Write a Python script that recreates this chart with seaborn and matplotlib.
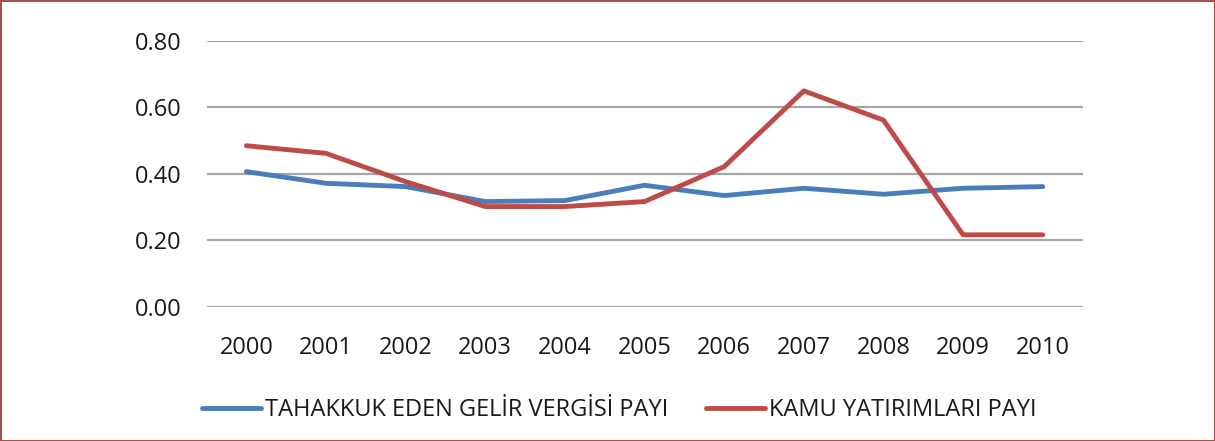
import matplotlib
matplotlib.use("Agg")
import matplotlib.pyplot as plt
import seaborn as sns
import pandas as pd

years = ["2000", "2001", "2002", "2003", "2004", "2005", "2006", "2007", "2008", "2009", "2010"]
gelir_vergisi = [0.407, 0.372, 0.362, 0.317, 0.320, 0.366, 0.335, 0.357, 0.339, 0.357, 0.362]
kamu_yatirim = [0.485, 0.462, 0.377, 0.302, 0.302, 0.317, 0.422, 0.650, 0.562, 0.217, 0.217]
series_names = ["TAHAKKUK EDEN GELİR VERGİSİ PAYI", "KAMU YATIRIMLARI PAYI"]
yticks = [0.0, 0.2, 0.4, 0.6, 0.8]

sns.set_style("white")
plt.rcParams['font.family'] = ['Open Sans', 'DejaVu Sans']

df = pd.DataFrame({
    "pos": list(range(len(years))) * 2,
    "value": gelir_vergisi + kamu_yatirim,
    "series": [series_names[0]] * len(years) + [series_names[1]] * len(years),
})

fig = plt.figure(figsize=(12.15, 4.41), dpi=100)
fig.patch.set_edgecolor("#A9514C")
fig.patch.set_linewidth(2)
ax = fig.add_axes([0.170, 0.304, 0.721, 0.603])

sns.lineplot(data=df, x="pos", y="value", hue="series",
             palette=["#4A7EBB", "#BE4B48"], linewidth=3.5, ax=ax,
             legend=True)

ax.set_xlim(-0.5, len(years) - 0.5)
ax.set_ylim(0, 0.8)
ax.set_yticks(yticks)
ax.set_yticklabels([f"{v:.2f}" for v in yticks], fontsize=17)
ax.set_xticks(range(len(years)))
ax.set_xticklabels(years, fontsize=17)
ax.set_xlabel("")
ax.set_ylabel("")
ax.yaxis.grid(True, color="#A6A6A6", linewidth=1.6)
ax.set_axisbelow(True)
for s in ax.spines.values():
    s.set_visible(False)
ax.tick_params(axis="x", length=0, pad=21)
ax.tick_params(axis="y", length=0, pad=18)
for lab in ax.get_yticklabels() + ax.get_xticklabels():
    lab.set_color("#1a1a1a")

handles, labels = ax.get_legend_handles_labels()
leg = ax.legend(handles, labels, loc="center", bbox_to_anchor=(0.471, -0.387),
                ncol=2, frameon=False, fontsize=17, handlelength=2.5,
                handletextpad=0.17, columnspacing=1.6)
for t in leg.get_texts():
    t.set_color("#1a1a1a")

fig.savefig("out.png", dpi=100, edgecolor=fig.get_edgecolor())
